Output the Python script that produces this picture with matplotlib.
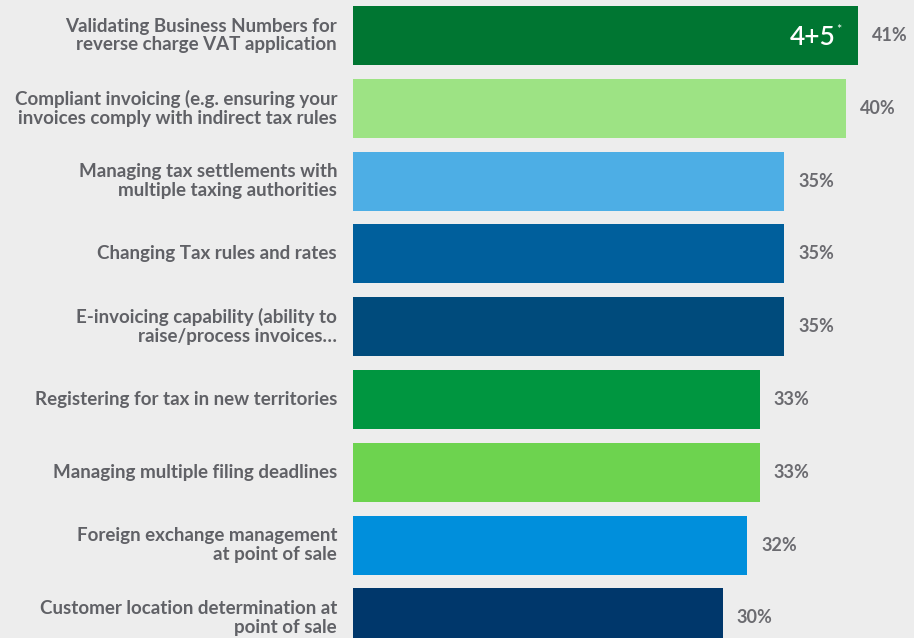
import matplotlib.pyplot as plt

categories = [
    'Validating Business Numbers for\nreverse charge VAT application',
    'Compliant invoicing (e.g. ensuring your\ninvoices comply with indirect tax rules',
    'Managing tax settlements with\nmultiple taxing authorities',
    'Changing Tax rules and rates',
    'E-invoicing capability (ability to\nraise/process invoices\u2026',
    'Registering for tax in new territories',
    'Managing multiple filing deadlines',
    'Foreign exchange management\nat point of sale',
    'Customer location determination at\npoint of sale',
]
values = [41, 40, 35, 35, 35, 33, 33, 32, 30]
colors = ['#007632', '#9de384', '#4daee5', '#005f9c', '#004b7c',
          '#009640', '#6dd34f', '#008fdc', '#00376b']

bg = '#ededed'
txt = '#606166'

plt.rcParams['font.family'] = ['Lato', 'DejaVu Sans']

fig = plt.figure(figsize=(9.14, 6.38), dpi=100, facecolor=bg)
ax = fig.add_axes([353 / 914, 0, (914 - 353) / 914, 1])
ax.set_facecolor(bg)

pos = list(range(len(values)))
ax.barh(pos, values, height=0.81, color=colors)

ax.set_ylim(8.276, -0.488)
ax.set_xlim(0, 45.54)

for y, v in zip(pos, values):
    ax.annotate(f'{v}%', (v, y), xytext=(14, 0), textcoords='offset pixels',
                ha='left', va='center', fontsize=13, fontweight='bold',
                color='#6b6b70')

# top-two-box marker inside the first bar
ax.annotate('4+5', (values[0], 0), xytext=(-22, -2), textcoords='offset pixels',
            ha='right', va='center', fontsize=19, fontweight='semibold',
            color='white')
ax.annotate('*', (values[0], 0), xytext=(-17, 6), textcoords='offset pixels',
            ha='right', va='center', fontsize=9, color='white')

ax.set_yticks(pos)
ax.set_yticklabels(categories, fontsize=13.5, fontweight='bold', color=txt,
                   linespacing=1.12, va='center')
ax.tick_params(axis='y', length=0, pad=11.5)
ax.set_xticks([])
for s in ax.spines.values():
    s.set_visible(False)

fig.savefig('out.png', dpi=100, facecolor=bg)
